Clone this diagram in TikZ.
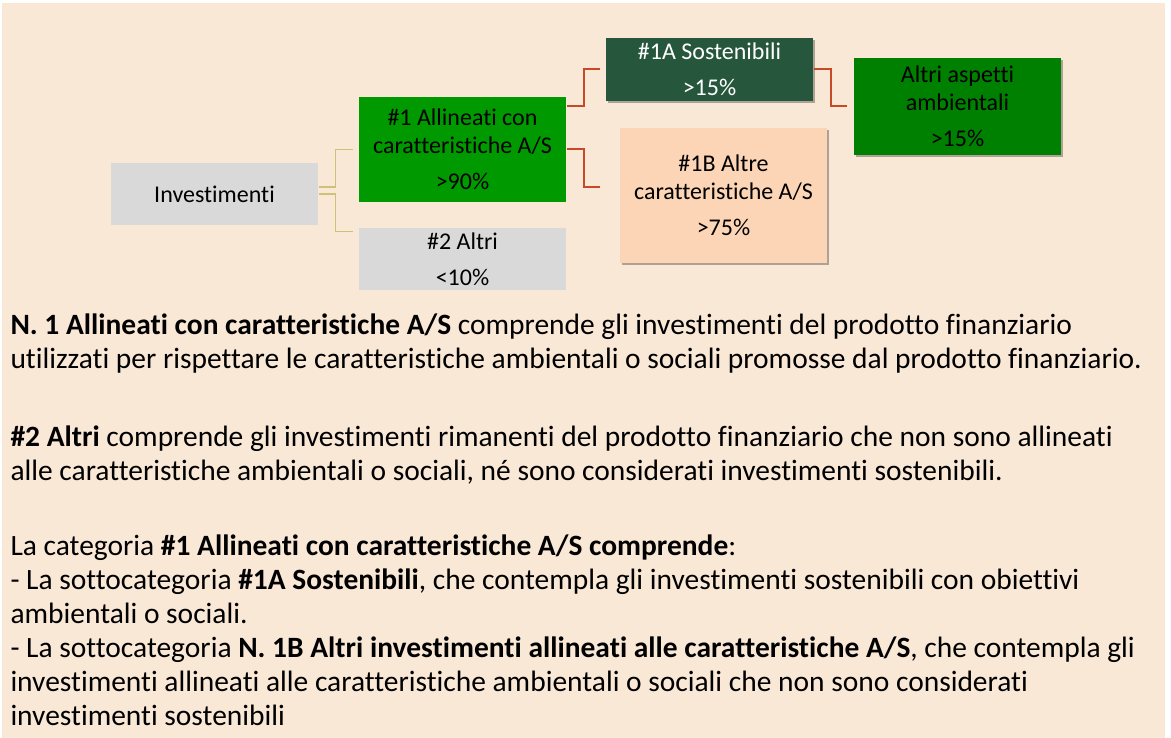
\documentclass[tikz,border=0pt]{standalone}
\usepackage{fontspec}
\setmainfont{Carlito}[Ligatures=NoCommon]
\usetikzlibrary{calc,shadows}

\definecolor{bgpeach}{RGB}{250,232,215}
\definecolor{boxgrey}{RGB}{217,217,217}
\definecolor{midgreen}{RGB}{0,153,0}
\definecolor{darkgreen}{RGB}{38,87,60}
\definecolor{envgreen}{RGB}{0,128,0}
\definecolor{peachbox}{RGB}{251,213,181}
\definecolor{khakiline}{RGB}{206,194,120}
\definecolor{rustline}{RGB}{197,75,40}

\tikzset{every picture/.style={line width=0.75pt}}
\tikzset{
  catbox/.style={inner sep=0pt, minimum width=155.25pt, align=center,
    font=\fontsize{18}{20.6}\selectfont},
  shadowbox/.style={catbox, drop shadow={shadow xshift=1.5pt, shadow yshift=-1.5pt, opacity=0.3, fill=black}},
  khakilink/.style={draw=khakiline, line width=1.1pt},
  rustlink/.style={draw=rustline, line width=1.5pt},
  bodytext/.style={anchor=base west, inner sep=0pt, align=left,
    font=\fontsize{22.1}{25.4}\selectfont}
}

\begin{document}
\begin{tikzpicture}[x=0.75pt,y=0.75pt,yscale=-1,xscale=1]
\useasboundingbox (0,0) rectangle (1171,738);
\fill[bgpeach] (2,3) rectangle (1165,738);

%Shape: Rectangle
\node[catbox, fill=boxgrey, minimum height=46.5pt] (inv) at (214.5,194) {Investimenti};
%Shape: Rectangle
\node[catbox, fill=midgreen, minimum height=78.75pt] (a1) at (462.5,149.5) {\#1 Allineati con\\ caratteristiche A/S\\[6.4pt] >90\%};
%Shape: Rectangle
\node[catbox, fill=boxgrey, minimum height=46.5pt] (a2) at (462.5,259) {\#2 Altri\\[6.4pt] <10\%};
%Shape: Rectangle
\node[shadowbox, fill=darkgreen, text=white, minimum height=47.25pt] (s1a) at (709.5,69.5) {\#1A Sostenibili\\[6.4pt] >15\%};
%Shape: Rectangle
\node[shadowbox, fill=peachbox, minimum height=101.25pt] (s1b) at (723.5,195.5) {\#1B Altre\\ caratteristiche A/S\\[6.4pt] >75\%};
%Shape: Rectangle
\node[shadowbox, fill=envgreen, minimum height=72.75pt] (amb) at (957.5,106.5) {Altri aspetti\\ ambientali\\[6.4pt] >15\%};

%Straight Lines
\draw[khakilink] ($(inv.east)+(0,-7)$) -- ++(17,0) |- ($(a1.west)+(-6,0)$);
\draw[khakilink] (inv.east) -- ++(17,0) |- ($(a2.north west)+(-6,4)$);
%Straight Lines
\draw[rustlink] ($(a1.north east)+(0,10)$) -- ++(17,0) |- ($(s1a.west)+(-6,0)$);
\draw[rustlink] (a1.east) -- ++(17,0) |- ($(s1b.west)+(-20,-8.5)$);
\draw[rustlink] (s1a.east) -- ++(17,0) |- ($(amb.west)+(-7,0)$);

% Text Node (anchored at the baseline of the last line)
\node[bodytext] (para1) at (10,368) {\textbf{N. 1 Allineati con caratteristiche A/S} comprende gli investimenti del prodotto finanziario\\
utilizzati per rispettare le caratteristiche ambientali o sociali promosse dal prodotto finanziario.};
% Text Node
\node[bodytext] (para2) at (10,480) {\textbf{\#2 Altri} comprende gli investimenti rimanenti del prodotto finanziario che non sono allineati\\
alle caratteristiche ambientali o sociali, né sono considerati investimenti sostenibili.};
% Text Node
\node[bodytext] (para3) at (10,725) {La categoria \textbf{\#1 Allineati con caratteristiche A/S comprende}:\\
- La sottocategoria \textbf{\#1A Sostenibili}, che contempla gli investimenti sostenibili con obiettivi\\
ambientali o sociali.\\
- La sottocategoria \textbf{N. 1B Altri investimenti allineati alle caratteristiche A/S}, che contempla gli\\
investimenti allineati alle caratteristiche ambientali o sociali che non sono considerati\\
investimenti sostenibili};

\end{tikzpicture}
\end{document}
